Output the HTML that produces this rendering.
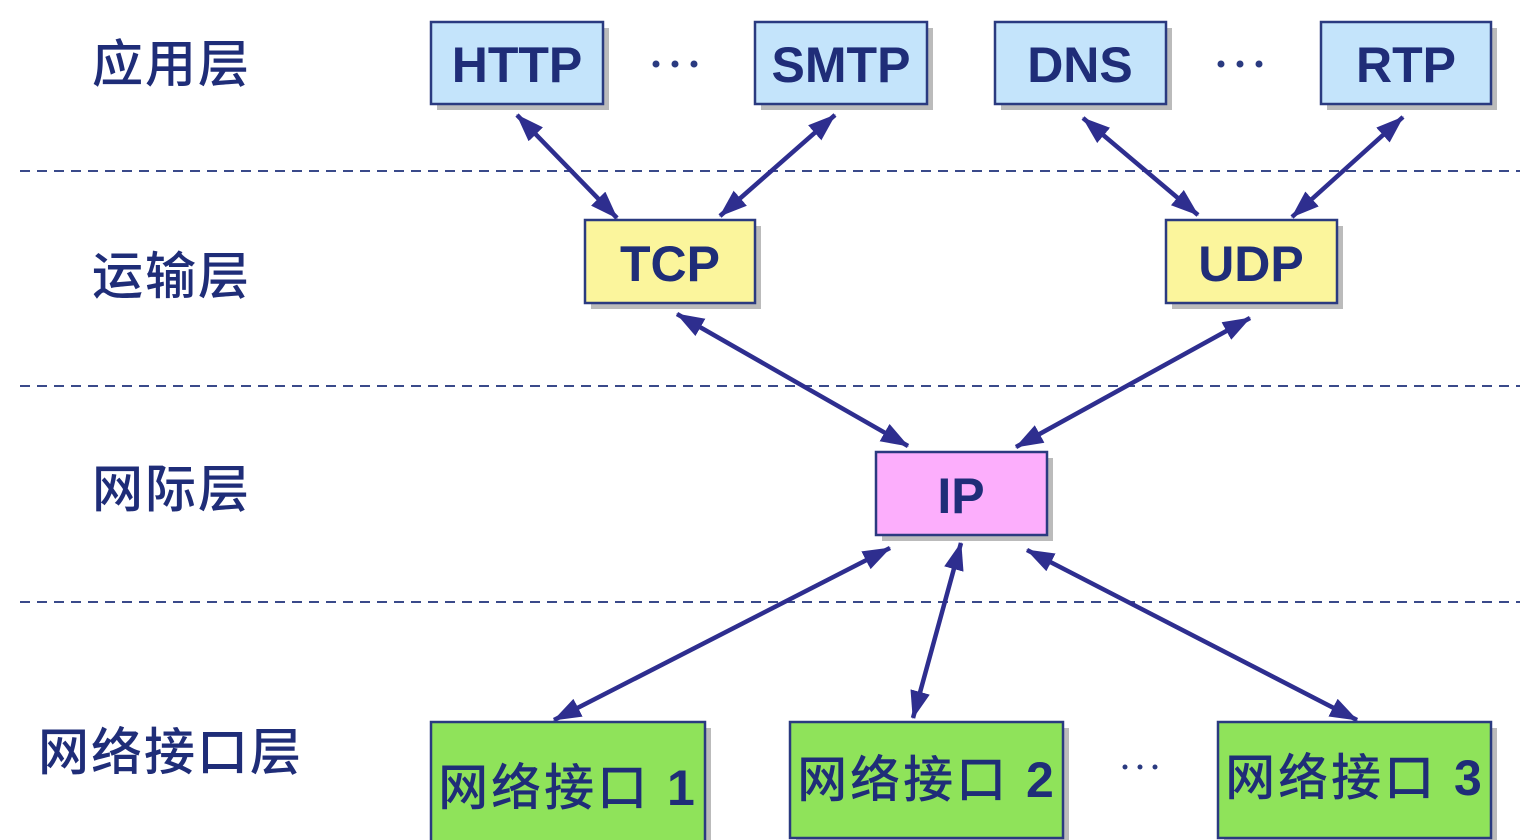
<!DOCTYPE html>
<html><head><meta charset="utf-8"><style>
html,body{margin:0;padding:0;background:#fff;width:1520px;height:840px;overflow:hidden}
svg text{font-family:"Liberation Sans","Noto Sans CJK SC",sans-serif;fill:#1f2d78}
</style></head><body>
<svg width="1520" height="840" viewBox="0 0 1520 840" xmlns="http://www.w3.org/2000/svg">
<defs>
<marker id="a" viewBox="0 0 28 20" refX="27" refY="10" markerWidth="28" markerHeight="20" orient="auto-start-reverse" markerUnits="userSpaceOnUse">
<path d="M0,0 L28,10 L0,20 z" fill="#2e2e8f"/>
</marker>
</defs>
<g stroke="#3a4a8a" stroke-width="2" stroke-dasharray="10,7">
<line x1="20" y1="171" x2="1520" y2="171"/>
<line x1="20" y1="386" x2="1520" y2="386"/>
<line x1="20" y1="602" x2="1520" y2="602"/>
</g>
<g font-size="51" letter-spacing="2" font-weight="500">
<text x="92" y="82">应用层</text>
<text x="92" y="294">运输层</text>
<text x="92" y="507">网际层</text>
<text x="38" y="770">网络接口层</text>
</g>
<g fill="#bbbbbb">
<rect x="437" y="28" width="172" height="82"/><rect x="761" y="28" width="172" height="82"/>
<rect x="1001" y="28" width="171" height="82"/><rect x="1327" y="28" width="170" height="82"/>
<rect x="591" y="226" width="170" height="83"/><rect x="1172" y="226" width="171" height="83"/>
<rect x="882" y="458" width="171" height="83"/>
<rect x="437" y="728" width="274" height="118"/><rect x="796" y="728" width="273" height="118"/><rect x="1224" y="728" width="273" height="118"/>
</g>
<g stroke="#2a3a80" stroke-width="2.5">
<rect x="431" y="22" width="172" height="82" fill="#c4e4fb"/>
<rect x="755" y="22" width="172" height="82" fill="#c4e4fb"/>
<rect x="995" y="22" width="171" height="82" fill="#c4e4fb"/>
<rect x="1321" y="22" width="170" height="82" fill="#c4e4fb"/>
<rect x="585" y="220" width="170" height="83" fill="#fbf59c"/>
<rect x="1166" y="220" width="171" height="83" fill="#fbf59c"/>
<rect x="876" y="452" width="171" height="83" fill="#fcaefc"/>
<rect x="431" y="722" width="274" height="125" fill="#8fe35a"/>
<rect x="790" y="722" width="273" height="116" fill="#8fe35a"/>
<rect x="1218" y="722" width="273" height="116" fill="#8fe35a"/>
</g>
<g font-size="50" font-weight="bold" text-anchor="middle">
<text x="517" y="82">HTTP</text>
<text x="841" y="82">SMTP</text>
<text x="1080" y="82">DNS</text>
<text x="1406" y="82">RTP</text>
<text x="670" y="281">TCP</text>
<text x="1251" y="281">UDP</text>
<text x="961" y="513">IP</text>
</g>
<g font-size="50" text-anchor="middle" letter-spacing="3" font-weight="500">
<text x="568" y="805">网络接口 <tspan font-weight="bold">1</tspan></text>
<text x="927" y="797">网络接口 <tspan font-weight="bold">2</tspan></text>
<text x="1355" y="795">网络接口 <tspan font-weight="bold">3</tspan></text>
</g>
<g fill="#2a3a80">
<circle cx="656" cy="64" r="3.5"/><circle cx="675" cy="64" r="3.5"/><circle cx="694" cy="64" r="3.5"/>
<circle cx="1221" cy="64" r="3.5"/><circle cx="1240" cy="64" r="3.5"/><circle cx="1259" cy="64" r="3.5"/>
<circle cx="1125" cy="767" r="2.5"/><circle cx="1140" cy="767" r="2.5"/><circle cx="1155" cy="767" r="2.5"/>
</g>
<g stroke="#2e2e8f" stroke-width="4.5" marker-start="url(#a)" marker-end="url(#a)">
<line x1="517" y1="115" x2="617" y2="218"/>
<line x1="835" y1="115" x2="720" y2="216"/>
<line x1="1083" y1="118" x2="1198" y2="215"/>
<line x1="1403" y1="117" x2="1292" y2="217"/>
<line x1="677" y1="314" x2="908" y2="446"/>
<line x1="1250" y1="318" x2="1016" y2="447"/>
<line x1="890" y1="548" x2="554" y2="720"/>
<line x1="961" y1="543" x2="913" y2="718"/>
<line x1="1027" y1="550" x2="1357" y2="720"/>
</g>
</svg>
</body></html>
